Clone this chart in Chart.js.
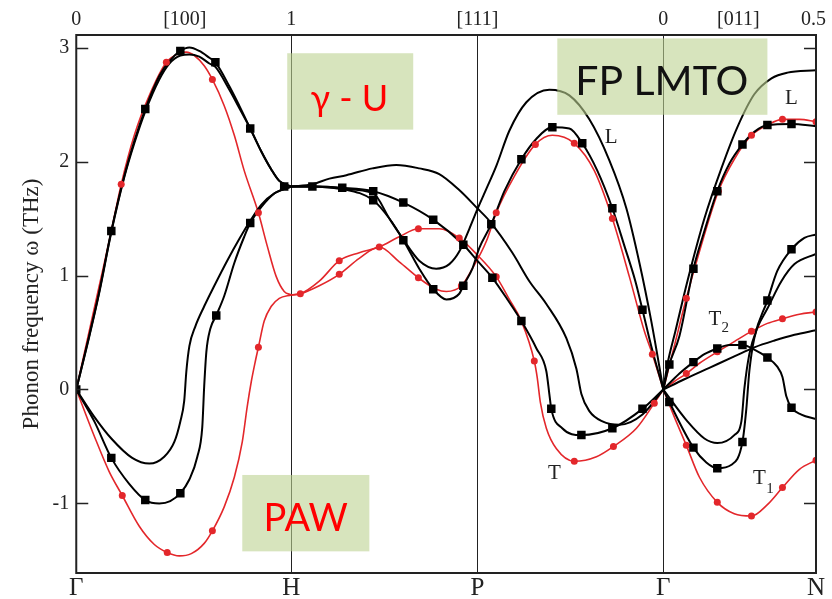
<!DOCTYPE html>
<html>
<head>
<meta charset="utf-8">
<script src="https://cdn.jsdelivr.net/npm/chart.js@4.4.0/dist/chart.umd.min.js"></script>
<style>
html,body{margin:0;padding:0;background:#fff}
</style>
</head>
<body>
<canvas id="c" width="832" height="599"></canvas>
<script>
// high symmetry points along the path (Gamma-H = 1)
const symLabels=["Γ","H","P","Γ","N"];
const symPos=[0,1,1.866,2.73,3.44];
const topLabels=["0","[100]","1","[111]","0","[011]","0.5"];
const topPos=[0,0.505,1,1.866,2.73,3.079,3.428];
const yTicks=[-1,0,1,2,3];

// FP LMTO branches (black)
const lmtoGH1=[[0,0],[0.06,0.47],[0.107,0.86],[0.163,1.39],[0.223,1.87],[0.27,2.18],[0.321,2.46],[0.386,2.75],[0.433,2.88],[0.484,2.97],[0.526,3.0],[0.572,2.97],[0.619,2.91],[0.647,2.87],[0.712,2.66],[0.758,2.49],[0.809,2.29],[0.86,2.09],[0.907,1.93],[0.944,1.83],[1,1.78]];
const lmtoGH2=[[0,0],[0.06,0.46],[0.107,0.85],[0.163,1.38],[0.223,1.86],[0.27,2.16],[0.321,2.44],[0.386,2.72],[0.433,2.86],[0.484,2.93],[0.526,2.94],[0.572,2.92],[0.619,2.86],[0.647,2.83],[0.712,2.63],[0.758,2.47],[0.809,2.29],[0.86,2.09],[0.907,1.93],[0.944,1.83],[1,1.78]];
const lmtoGH3=[[0,0],[0.084,-0.24],[0.163,-0.43],[0.26,-0.6],[0.34,-0.65],[0.409,-0.59],[0.456,-0.46],[0.484,-0.28],[0.502,-0.1],[0.512,0.16],[0.526,0.38],[0.553,0.55],[0.595,0.73],[0.642,0.91],[0.702,1.13],[0.758,1.32],[0.809,1.48],[0.86,1.62],[0.921,1.72],[1,1.78]];
const lmtoGH4=[[0,0],[0.084,-0.28],[0.163,-0.6],[0.247,-0.83],[0.321,-0.97],[0.386,-1.0],[0.437,-0.98],[0.484,-0.91],[0.526,-0.79],[0.563,-0.59],[0.586,-0.33],[0.595,0.03],[0.605,0.33],[0.623,0.53],[0.651,0.65],[0.688,0.82],[0.735,1.11],[0.781,1.34],[0.809,1.46],[0.86,1.6],[0.921,1.72],[1,1.78]];
const lmtoHG1=[[1,1.78],[1.098,1.8],[1.177,1.85],[1.256,1.88],[1.377,1.94],[1.488,1.97],[1.595,1.94],[1.688,1.89],[1.781,1.75],[1.865,1.59],[1.921,1.48],[2.028,1.2],[2.107,0.95],[2.186,0.75],[2.279,0.45],[2.326,0.18],[2.349,-0.04],[2.386,-0.19],[2.447,-0.28],[2.526,-0.31],[2.633,-0.22],[2.73,0]];
const lmtoHG2=[[1,1.78],[1.098,1.78],[1.237,1.77],[1.381,1.74],[1.521,1.64],[1.66,1.49],[1.8,1.27],[1.865,1.13],[1.935,0.98],[2.005,0.79],[2.07,0.6],[2.14,0.36],[2.186,0.16],[2.2,-0.04],[2.209,-0.17],[2.26,-0.34],[2.349,-0.4],[2.493,-0.34],[2.633,-0.17],[2.73,0]];
const lmtoHG3=[[1,1.78],[1.098,1.78],[1.237,1.76],[1.381,1.72],[1.456,1.5],[1.516,1.33],[1.595,1.13],[1.674,1.06],[1.735,1.1],[1.781,1.21],[1.828,1.41],[1.865,1.58],[1.907,1.76],[1.953,1.96],[2.014,2.27],[2.093,2.52],[2.2,2.63],[2.293,2.58],[2.386,2.37],[2.479,2.01],[2.558,1.59],[2.619,1.11],[2.674,0.6],[2.73,0]];
const lmtoHG4=[[1,1.78],[1.098,1.78],[1.237,1.76],[1.381,1.66],[1.456,1.5],[1.521,1.31],[1.595,1.06],[1.66,0.88],[1.721,0.79],[1.781,0.84],[1.8,0.91],[1.842,1.06],[1.874,1.24],[1.93,1.45],[1.991,1.74],[2.07,2.02],[2.14,2.2],[2.214,2.3],[2.293,2.29],[2.353,2.16],[2.423,1.92],[2.493,1.59],[2.549,1.26],[2.6,0.95],[2.633,0.7],[2.674,0.38],[2.73,0]];
const lmtoGN1=[[2.73,0],[2.749,0.22],[2.786,0.51],[2.842,0.95],[2.921,1.5],[3.0,1.94],[3.074,2.3],[3.153,2.59],[3.233,2.73],[3.307,2.78],[3.44,2.8]];
const lmtoGN2=[[2.73,0],[2.758,0.22],[2.805,0.47],[2.87,1.06],[2.921,1.39],[2.981,1.74],[3.037,1.98],[3.098,2.15],[3.153,2.26],[3.214,2.32],[3.326,2.33],[3.44,2.31]];
const lmtoGN3=[[2.73,0],[2.805,0.14],[2.87,0.24],[2.921,0.31],[2.981,0.36],[3.037,0.39],[3.098,0.39],[3.153,0.35],[3.214,0.28],[3.26,0.2],[3.284,0.11],[3.302,-0.06],[3.326,-0.16],[3.372,-0.22],[3.44,-0.26]];
const lmtoGN4=[[2.73,0],[2.828,0.09],[2.944,0.19],[3.06,0.29],[3.153,0.37],[3.247,0.43],[3.34,0.48],[3.44,0.52]];
const lmtoGN5=[[2.73,0],[2.842,-0.28],[2.921,-0.43],[2.981,-0.47],[3.06,-0.4],[3.093,-0.28],[3.107,0.01],[3.13,0.31],[3.167,0.54],[3.214,0.71],[3.279,0.95],[3.34,1.1],[3.44,1.19]];
const lmtoGN6=[[2.73,0],[2.758,-0.11],[2.87,-0.51],[2.93,-0.64],[2.981,-0.69],[3.047,-0.66],[3.098,-0.46],[3.116,-0.17],[3.13,0.16],[3.153,0.45],[3.214,0.78],[3.26,1.04],[3.326,1.23],[3.386,1.33],[3.44,1.36]];
const lmtoMarks=[[0,0],[0.163,1.39],[0.321,2.46],[0.484,2.97],[0.647,2.87],[0.809,2.29],[0.967,1.78],
 [0.163,-0.6],[0.321,-0.97],[0.484,-0.91],[0.651,0.65],[0.809,1.46],
 [1.098,1.78],[1.237,1.77],[1.381,1.74],[1.521,1.64],[1.66,1.49],[1.8,1.27],[1.935,0.98],[2.07,0.6],[2.209,-0.17],[2.349,-0.4],[2.493,-0.34],[2.633,-0.17],
 [1.381,1.66],[1.521,1.31],[1.66,0.88],[1.8,0.91],[1.93,1.45],[2.07,2.02],[2.214,2.3],[2.353,2.16],[2.493,1.59],[2.633,0.7],
 [2.758,0.22],[2.87,1.06],[2.981,1.74],[3.098,2.15],[3.214,2.32],[3.326,2.33],
 [2.87,0.24],[2.981,0.36],[3.098,0.39],[3.214,0.28],[3.326,-0.16],
 [2.758,-0.11],[2.87,-0.51],[2.981,-0.69],[3.098,-0.46],[3.214,0.78],[3.326,1.23]];

// PAW branches (red)
const pawGH1=[[0,0],[0.06,0.51],[0.107,0.91],[0.163,1.39],[0.209,1.8],[0.27,2.23],[0.34,2.58],[0.419,2.87],[0.479,2.95],[0.512,2.96],[0.549,2.93],[0.595,2.84],[0.633,2.72],[0.688,2.49],[0.735,2.23],[0.781,1.92],[0.847,1.55],[0.888,1.26],[0.93,0.99],[0.967,0.86],[1,0.83]];
const pawGH2=[[0,0],[0.084,-0.41],[0.153,-0.72],[0.214,-0.93],[0.293,-1.2],[0.363,-1.36],[0.423,-1.43],[0.479,-1.46],[0.535,-1.44],[0.595,-1.35],[0.633,-1.24],[0.688,-1.03],[0.735,-0.77],[0.772,-0.46],[0.795,-0.15],[0.814,0.07],[0.833,0.25],[0.847,0.37],[0.874,0.6],[0.907,0.73],[0.944,0.8],[1,0.83]];
const pawHG1=[[1,0.83],[1.042,0.84],[1.13,0.95],[1.223,1.13],[1.316,1.2],[1.409,1.25],[1.502,1.34],[1.591,1.41],[1.688,1.41],[1.781,1.33],[1.86,1.19],[1.953,0.99],[2.014,0.79],[2.07,0.6],[2.13,0.25],[2.144,0.1],[2.158,-0.11],[2.186,-0.34],[2.233,-0.52],[2.316,-0.63],[2.419,-0.59],[2.498,-0.5],[2.605,-0.34],[2.688,-0.12],[2.73,0]];
const pawHG2=[[1,0.83],[1.042,0.84],[1.13,0.91],[1.223,1.01],[1.316,1.15],[1.409,1.25],[1.502,1.12],[1.591,0.98],[1.674,0.88],[1.721,0.86],[1.791,0.91],[1.842,1.06],[1.907,1.3],[1.953,1.55],[2.037,1.87],[2.135,2.15],[2.214,2.23],[2.316,2.16],[2.409,1.92],[2.493,1.5],[2.572,0.99],[2.642,0.51],[2.679,0.31],[2.73,0]];
const pawGN1=[[2.73,0],[2.781,0.38],[2.837,0.8],[2.898,1.21],[2.986,1.74],[3.06,2.02],[3.14,2.23],[3.214,2.32],[3.284,2.37],[3.363,2.37],[3.44,2.35]];
const pawGN2=[[2.73,0],[2.781,0.07],[2.837,0.14],[2.898,0.23],[2.981,0.33],[3.06,0.42],[3.14,0.51],[3.214,0.58],[3.284,0.62],[3.363,0.66],[3.44,0.68]];
const pawGN3=[[2.73,0],[2.781,-0.24],[2.837,-0.49],[2.898,-0.77],[2.981,-0.99],[3.06,-1.09],[3.14,-1.11],[3.214,-1.01],[3.284,-0.86],[3.363,-0.7],[3.44,-0.62]];
const pawMarks=[[0.209,1.8],[0.419,2.87],[0.633,2.72],[0.847,1.55],
 [0.214,-0.93],[0.423,-1.43],[0.633,-1.24],[0.847,0.37],
 [1.042,0.84],[1.223,1.13],[1.409,1.25],[1.591,1.41],[1.781,1.33],[1.953,0.99],[2.13,0.25],[2.316,-0.63],[2.498,-0.5],[2.688,-0.12],
 [1.223,1.01],[1.591,0.98],[1.791,0.91],[1.953,1.55],[2.135,2.15],[2.316,2.16],[2.493,1.5],[2.679,0.31],
 [2.837,0.8],[2.986,1.74],[3.14,2.23],[3.284,2.37],[3.44,2.35],
 [2.837,0.14],[2.981,0.33],[3.14,0.51],[3.284,0.62],[3.44,0.68],
 [2.837,-0.49],[2.981,-0.99],[3.14,-1.11],[3.284,-0.86],[3.44,-0.62]];

const BLACK="#000";
const RED="#e3272b";
const serif="'Liberation Serif','Times New Roman',serif";
const sans="Lato,'Open Sans',sans-serif";

const xy=pts=>pts.map(p=>({x:p[0],y:p[1]}));
function curve(pts,color,w){
return{type:"line",data:xy(pts),borderColor:color,borderWidth:w,pointRadius:0,
cubicInterpolationMode:"monotone",fill:false};
}
function marks(pts,color,style,r){
return{type:"scatter",data:xy(pts),pointStyle:style,pointRadius:r,pointHoverRadius:r,
backgroundColor:color,borderColor:color,borderWidth:0,showLine:false};
}

// first dataset ends up on top
const datasets=[
marks(lmtoMarks,BLACK,"rect",6),
marks(pawMarks,RED,"circle",3.5),
...[lmtoGH1,lmtoGH2,lmtoGH3,lmtoGH4,lmtoHG1,lmtoHG2,lmtoHG3,lmtoHG4,lmtoGN1,lmtoGN2,lmtoGN3,lmtoGN4,lmtoGN5,lmtoGN6].map(p=>curve(p,BLACK,2)),
...[pawGH1,pawGH2,pawHG1,pawHG2,pawGN1,pawGN2,pawGN3].map(p=>curve(p,RED,1.6))
];

// text boxes and branch labels, placed in data coordinates
const boxes=[
{x0:0.981,x1:1.567,y0:2.95,y1:2.28,text:"γ - U",tx:1.27,ty:2.445,color:"#ff0000",size:36},
{x0:2.237,x1:3.214,y0:3.08,y1:2.41,text:"FP LMTO",tx:2.723,ty:2.586,color:"#111",size:41},
{x0:0.772,x1:1.363,y0:-0.75,y1:-1.42,text:"PAW",tx:1.067,ty:-1.24,color:"#ff0000",size:38}
];
const branchLabels=[
{t:"L",x:2.488,y:2.164,size:21,align:"center"},
{t:"L",x:3.326,y:2.507,size:21,align:"center"},
{t:"T",x:2.223,y:-0.783,size:21,align:"center"},
{t:"T",x:2.970,y:0.563,size:21,align:"center"},
{t:"2",x:3.0,y:0.5,size:15,align:"left"},
{t:"T",x:3.177,y:-0.827,size:21,align:"center"},
{t:"1",x:3.209,y:-0.906,size:15,align:"left"}
];

const frame={
id:"frame",
afterDatasetsDraw(chart){
const {ctx,chartArea:a,scales:{x,y}}=chart;
ctx.save();
ctx.strokeStyle="#222";
ctx.lineWidth=2;
ctx.strokeRect(a.left,a.top,a.right-a.left,a.bottom-a.top);
ctx.lineWidth=1.5;
yTicks.forEach(v=>{
const py=Math.round(y.getPixelForValue(v))+0.5;
ctx.beginPath();
ctx.moveTo(a.left,py);ctx.lineTo(a.left+12,py);
ctx.moveTo(a.right-12,py);ctx.lineTo(a.right,py);
ctx.stroke();
});
ctx.restore();
},
afterDraw(chart){
const {ctx,scales:{x,y}}=chart;
ctx.save();
boxes.forEach(b=>{
const l=x.getPixelForValue(b.x0),r=x.getPixelForValue(b.x1);
const t=y.getPixelForValue(b.y0),bt=y.getPixelForValue(b.y1);
ctx.fillStyle="rgba(188,210,145,0.6)";
ctx.fillRect(l,t,r-l,bt-t);
ctx.fillStyle=b.color;
ctx.font=b.size+"px "+sans;
ctx.textAlign="center";
ctx.textBaseline="alphabetic";
ctx.fillText(b.text,x.getPixelForValue(b.tx),y.getPixelForValue(b.ty));
});
ctx.fillStyle="#222";
branchLabels.forEach(s=>{
ctx.font=s.size+"px "+serif;
ctx.textAlign=s.align;
ctx.textBaseline="alphabetic";
ctx.fillText(s.t,x.getPixelForValue(s.x),y.getPixelForValue(s.y));
});
ctx.restore();
}
};

new Chart(document.getElementById("c"),{
type:"line",
data:{datasets},
options:{
responsive:false,
animation:false,
devicePixelRatio:1,
layout:{padding:{left:18,right:16,top:5,bottom:-5}},
plugins:{legend:{display:false},tooltip:{enabled:false}},
scales:{
x:{type:"linear",position:"bottom",min:0,max:3.44,
afterBuildTicks:s=>{s.ticks=symPos.map(v=>({value:v}));},
grid:{color:"#222",lineWidth:1,drawTicks:false},
border:{display:false},
ticks:{autoSkip:false,maxRotation:0,padding:3,color:"#222",
font:{family:serif,size:25,lineHeight:1},
callback:(v,i)=>symLabels[i]}},
x2:{type:"linear",position:"top",min:0,max:3.44,
afterBuildTicks:s=>{s.ticks=topPos.map(v=>({value:v}));},
grid:{display:false,drawTicks:false},
border:{display:false},
ticks:{autoSkip:false,maxRotation:0,padding:3,color:"#222",
font:{family:serif,size:20},
callback:(v,i)=>topLabels[i]}},
y:{type:"linear",min:-1.61,max:3.11,
afterBuildTicks:s=>{s.ticks=yTicks.map(v=>({value:v}));},
grid:{display:false,drawTicks:false},
border:{display:false},
ticks:{padding:7,color:"#222",font:{family:serif,size:20},callback:v=>String(v)},
title:{display:true,text:"Phonon frequency ω (THz)",color:"#222",
font:{family:serif,size:23},padding:{top:0,bottom:0}}}
}
},
plugins:[frame]
});
</script>
</body>
</html>
